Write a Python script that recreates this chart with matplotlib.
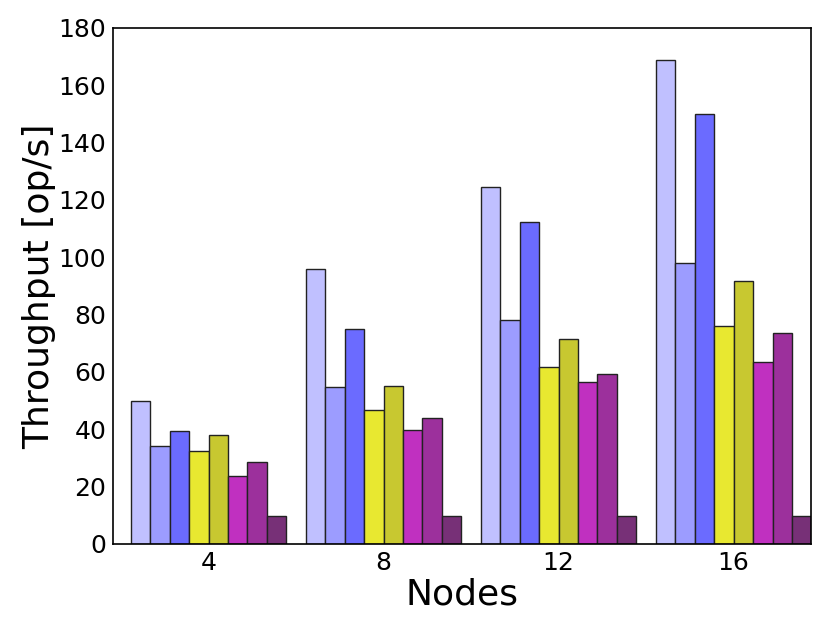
import numpy as np
import matplotlib
matplotlib.use('Agg')
import matplotlib.pyplot as plt

# Node counts on the x axis
nodes = ['4', '8', '12', '16']

# Throughput per configuration (8 bars per group)
series_1 = [50.0, 95.9, 124.3, 168.8]
series_2 = [34.3, 54.7, 78.0, 97.8]
series_3 = [39.4, 74.9, 112.4, 150.0]
series_4 = [32.5, 46.6, 61.7, 76.0]
series_5 = [37.9, 55.1, 71.5, 91.7]
series_6 = [23.5, 39.7, 56.5, 63.5]
series_7 = [28.4, 43.8, 59.3, 73.4]
series_8 = [9.7, 9.6, 9.6, 9.6]

colors = ['#c0c0ff', '#9c9cff', '#6b6bff', '#e8e830',
          '#c8c830', '#c030c0', '#9c309c', '#773077']

def main():
    all_series = [series_1, series_2, series_3, series_4,
                  series_5, series_6, series_7, series_8]
    fig = plt.figure(figsize=(8.3, 6.23), dpi=100)
    ax = fig.add_axes([0.1365, 0.127, 0.841, 0.8285])

    x = np.arange(len(nodes))
    w = 1.0 / 9
    n = len(all_series)
    for i, vals in enumerate(all_series):
        offs = (i - (n - 1) / 2.0) * w
        ax.bar(x + offs, vals, w, color=colors[i],
               edgecolor='#222222', linewidth=1.0)

    ax.set_xlim(-0.544, 3.444)
    ax.set_ylim(0, 180)
    ax.set_yticks(range(0, 181, 20))
    ax.set_xticks(x)
    ax.set_xticklabels(nodes)
    ax.tick_params(length=0, labelsize=18, pad=5)
    ax.set_xlabel('Nodes', fontsize=26, labelpad=2)
    ax.set_ylabel('Throughput [op/s]', fontsize=26, labelpad=2)
    for s in ax.spines.values():
        s.set_linewidth(1.2)

    fig.savefig('out.png', dpi=100)

if __name__ == "__main__":
    main()
